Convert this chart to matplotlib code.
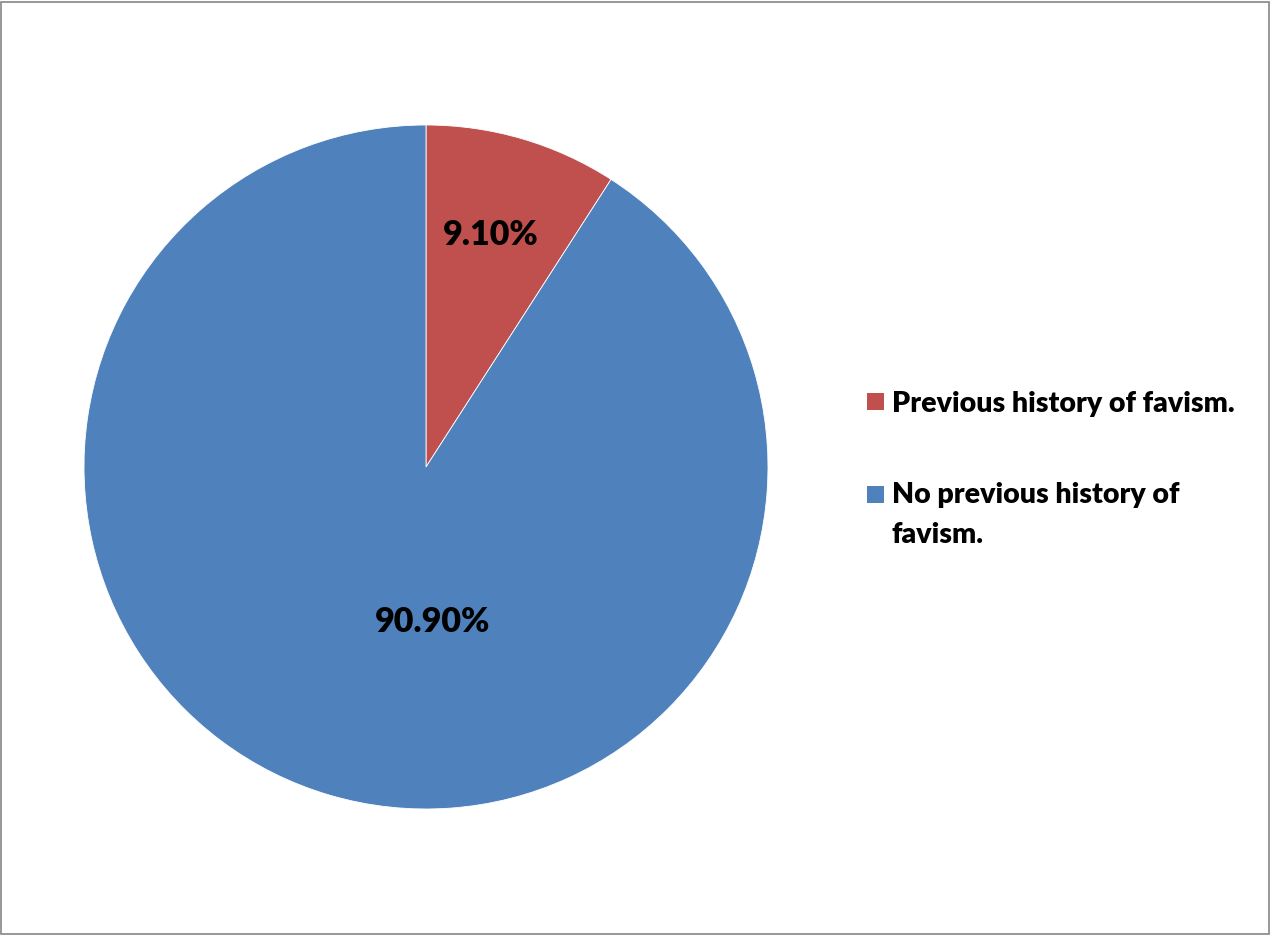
import matplotlib
matplotlib.use("Agg")
import matplotlib.pyplot as plt
from matplotlib.patches import Rectangle

# Data
categories = ["Previous history of favism.", "No previous history of\nfavism."]
values = [9.10, 90.90]
colors = ["#C0504D", "#4F81BD"]

W, H = 1270, 935
fig = plt.figure(figsize=(W / 100, H / 100), dpi=100)
fig.patch.set_facecolor("white")

FONT = "Lato"
WEIGHT = "heavy"

# pie axes: centre (426, 467) px, radius 342 px
cx, cy, r = 426, 467, 342
ax = fig.add_axes([(cx - r) / W, (H - cy - r) / H, 2 * r / W, 2 * r / H])
wedges, _ = ax.pie(values, colors=colors, startangle=90, counterclock=False,
                   radius=1.0, wedgeprops=dict(edgecolor="white", linewidth=0.6))
ax.set_xlim(-1, 1)
ax.set_ylim(-1, 1)
ax.set_aspect("equal")
ax.axis("off")

# value labels
label_pos = [(0.19, 0.678), (0.018, -0.453)]
for v, (x, y) in zip(values, label_pos):
    ax.text(x, y, f"{v:.2f}%", ha="center", va="center", fontsize=24.5,
            fontweight=WEIGHT, family=FONT, color="black")

# legend
def px(x, y):
    return x / W, 1 - y / H

sq = 17
legend_rows = [
    (393, [412]),
    (486, [503, 543]),
]
for (top, baselines), label, c in zip(legend_rows, categories, colors):
    x0, y0 = px(867, top + sq)
    fig.patches.append(Rectangle((x0, y0), sq / W, sq / H, transform=fig.transFigure,
                                 facecolor=c, edgecolor="none"))
    for line, b in zip(label.split("\n"), baselines):
        tx, ty = px(892, b)
        fig.text(tx, ty, line, ha="left", va="baseline", fontsize=20.5,
                 fontweight=WEIGHT, family=FONT, color="black")

# outer frame
fig.patches.append(Rectangle((0.5 / W, 1.5 / H), (W - 1.5) / W, (H - 3) / H,
                             transform=fig.transFigure, facecolor="none",
                             edgecolor="#868686", linewidth=1.2))

fig.savefig("out.png", dpi=100, facecolor="white")
